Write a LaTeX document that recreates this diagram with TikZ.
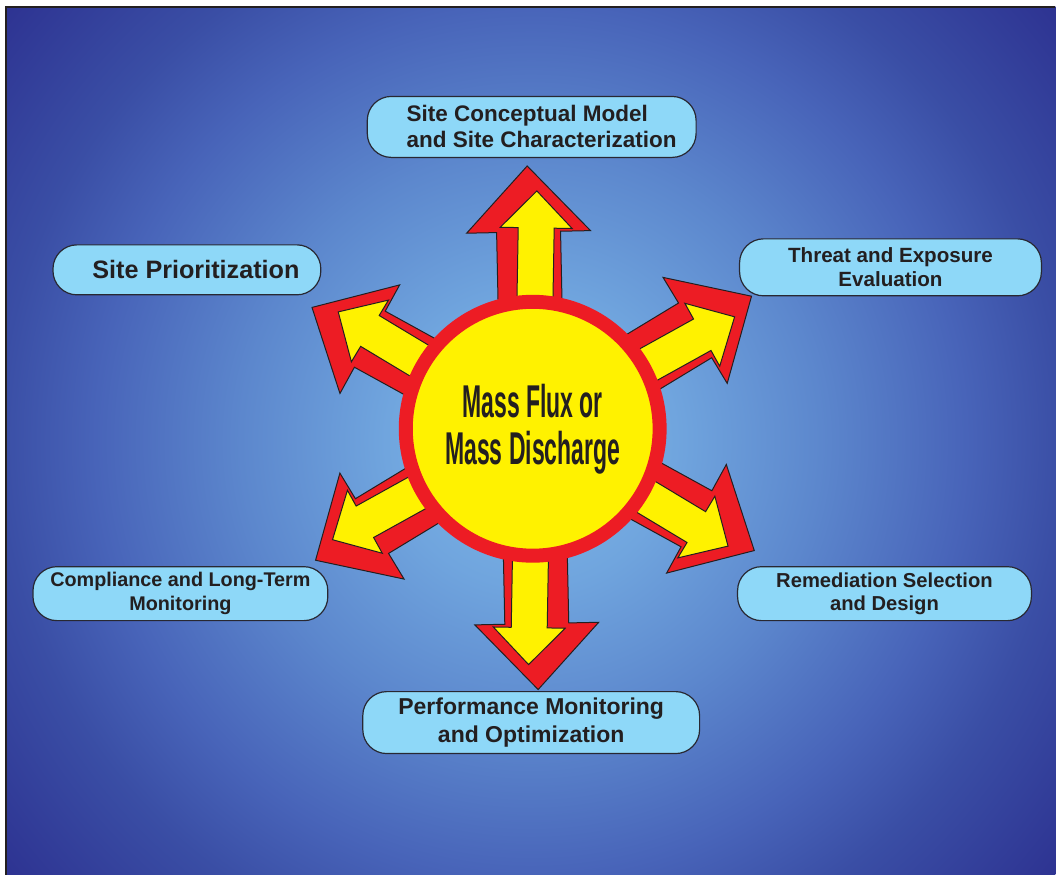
\documentclass[tikz,border=0pt]{standalone}
\usepackage{fontspec}
\setmainfont{Liberation Sans}
\newfontfamily\narrowfont{Liberation Sans}[FakeStretch=0.5]

\definecolor{fluxRed}{RGB}{237,28,36}
\definecolor{sunYellow}{RGB}{255,242,0}
\definecolor{boxBlue}{RGB}{142,216,248}
\definecolor{inkDark}{RGB}{35,31,32}
\definecolor{boxLine}{RGB}{40,40,50}
\definecolor{bgIn}{RGB}{128,185,232}
\definecolor{bgInTwo}{RGB}{112,165,222}
\definecolor{bgMid}{RGB}{92,135,205}
\definecolor{bgMidTwo}{RGB}{72,100,185}
\definecolor{bgEdge}{RGB}{58,78,165}
\definecolor{bgOut}{RGB}{45,50,145}

\pgfdeclareradialshading{bgGlow}{\pgfpoint{0bp}{0bp}}{%
  color(0bp)=(bgIn); color(15bp)=(bgInTwo); color(30bp)=(bgMid);
  color(45bp)=(bgMidTwo); color(55bp)=(bgEdge); color(71bp)=(bgOut)}

\tikzset{%
  % Specifications for style of nodes:
        base/.style = {rectangle, rounded corners=12pt, draw=boxLine,
                       line width=0.6pt, fill=boxBlue, text=inkDark,
                       align=center, inner sep=0pt},
     hubDisc/.style = {circle, fill=sunYellow, draw=fluxRed, line width=7pt,
                       minimum size=127pt, text=inkDark, align=center,
                       font=\narrowfont\bfseries\fontsize{23}{23.5}\selectfont},
  % Specifications for style of the fat arrows:
  outerArrow/.style = {fill=fluxRed, draw=inkDark, line width=0.5pt},
  innerArrow/.style = {fill=sunYellow, draw=inkDark, line width=0.5pt},
   frameLine/.style = {draw=inkDark, line width=0.6pt},
}

\begin{document}
\begin{tikzpicture}[x=0.5pt, y=-0.5pt]
  % Background with its glow and the thin frame
  \fill[white] (0,0) rectangle (1056,875);
  \begin{scope}
    \clip (6,7) rectangle (1056,875);
    \node (glow) [inner sep=0pt, scale=4.82] at (531,441) {\pgfuseshading{bgGlow}};
  \end{scope}
  \draw[frameLine] (6,875) -- (6,7) -- (1056,7);
  \useasboundingbox (0,0) rectangle (1056,875);

  \coordinate (hubPoint) at (533,429);

  % Specification of the six fat arrows (red arrow with a yellow one inside)
  \foreach \ang/\len in {90/263, 30/256, -30/253, -90/261, -150/254, 150/252}{
    \draw[outerArrow, shift={(hubPoint)}, rotate=\ang+1.2]
      (0,-32) -- ({\len-66},-32) -- ({\len-66},-62) -- (\len,0)
      -- ({\len-66},62) -- ({\len-66},32) -- (0,32) -- cycle;
    \draw[innerArrow, shift={(hubPoint)}, rotate=\ang-1]
      (0,-18) -- ({\len-62},-18) -- ({\len-62},-36) -- ({\len-25},0)
      -- ({\len-62},36) -- ({\len-62},18) -- (0,18) -- cycle;
  }

  % Specification of nodes (position, etc.)
  \node (massFlux)      [hubDisc] at (hubPoint)   {Mass Flux or\\Mass Discharge};

  \node (siteModel)     [base, minimum width=164.5pt, minimum height=30.5pt, align=left,
                         font=\bfseries\fontsize{11.25}{13}\selectfont] at (532,127)
                        {\hspace*{10pt}Site Conceptual Model\\\hspace*{10pt}and Site Characterization};
  \node (sitePriority)  [base, minimum width=134pt, minimum height=25pt,
                         font=\bfseries\fontsize{12.6}{15}\selectfont] at (187,270)
                        {\hspace*{9pt}Site Prioritization};
  \node (threatEval)    [base, minimum width=151pt, minimum height=28.5pt,
                         font=\bfseries\fontsize{10.3}{12}\selectfont] at (891,267.5)
                        {Threat and Exposure\\Evaluation};
  \node (complianceMon) [base, minimum width=147.5pt, minimum height=27pt,
                         font=\bfseries\fontsize{9.9}{12}\selectfont] at (180.5,594)
                        {Compliance and Long-Term\\Monitoring};
  \node (remedSelect)   [base, minimum width=147pt, minimum height=27pt,
                         font=\bfseries\fontsize{10.1}{11.5}\selectfont] at (885,594)
                        {Remediation Selection\\and Design};
  \node (perfMonitor)   [base, minimum width=168.5pt, minimum height=31pt,
                         font=\bfseries\fontsize{11.5}{14}\selectfont] at (531.5,723)
                        {Performance Monitoring\\and Optimization};
\end{tikzpicture}
\end{document}
